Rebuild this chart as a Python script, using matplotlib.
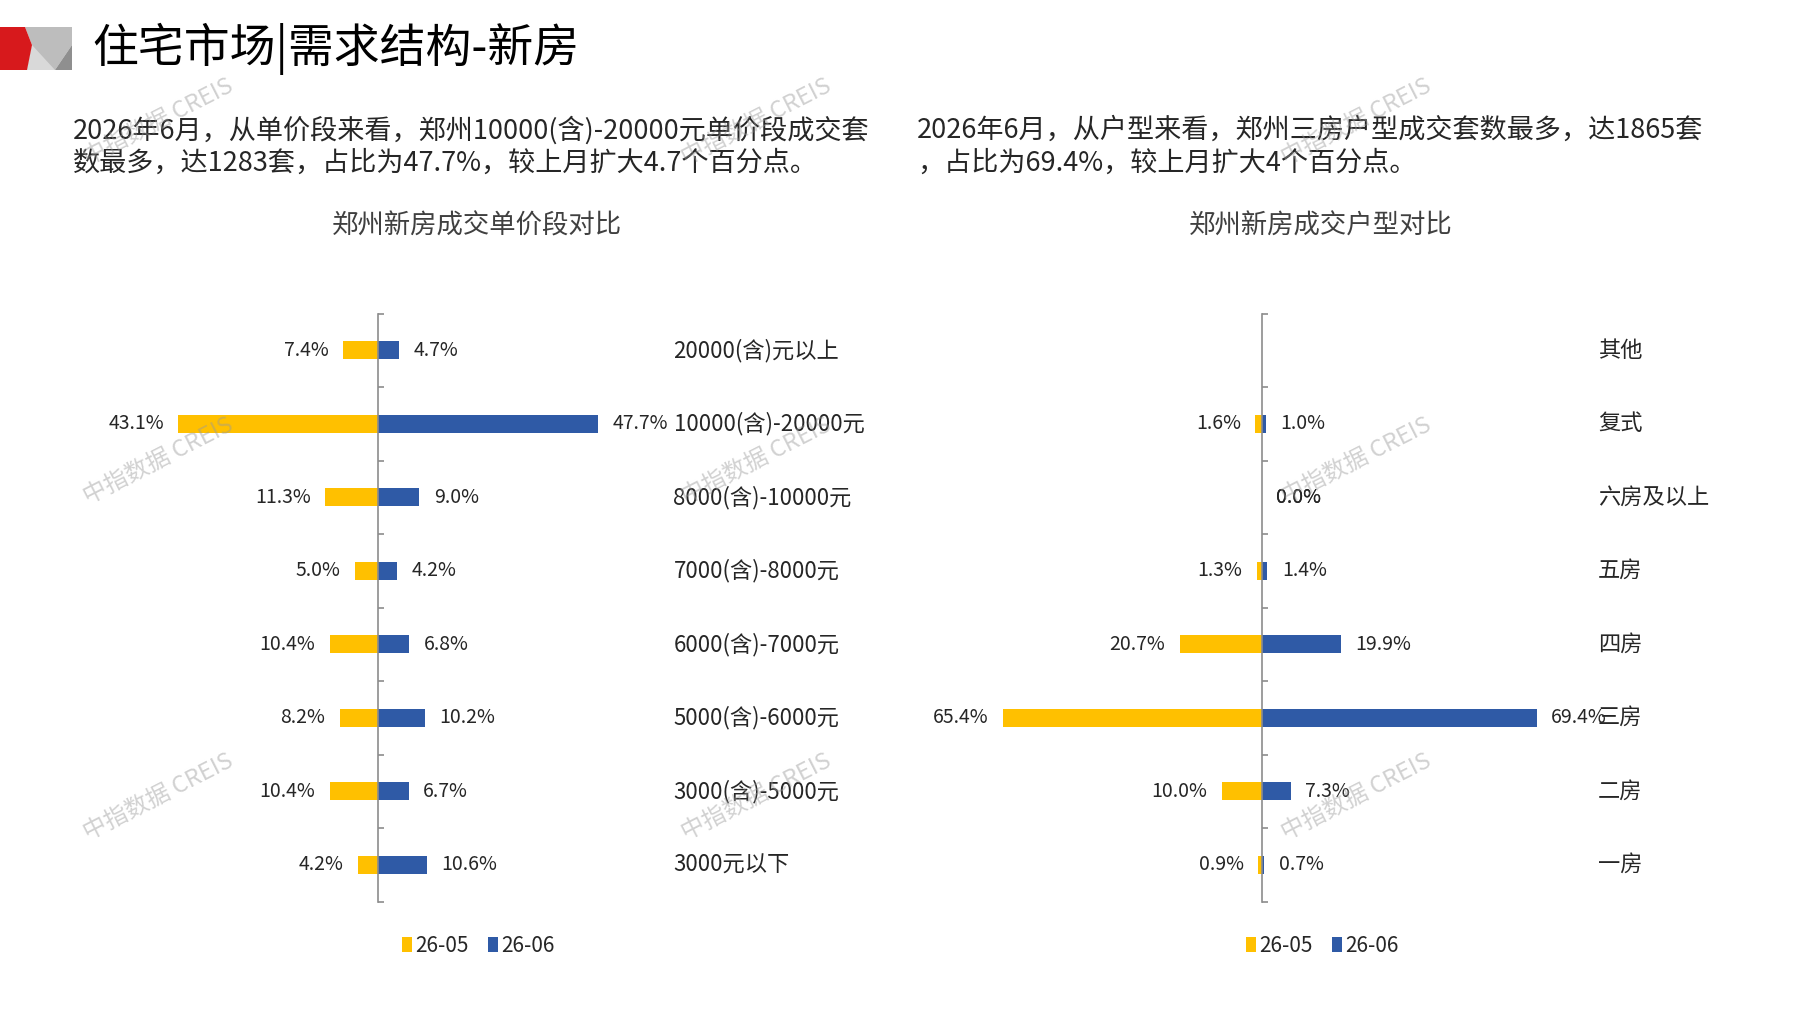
import matplotlib
matplotlib.use("Agg")
import matplotlib.pyplot as plt
import matplotlib.transforms as mtransforms
from matplotlib.patches import Polygon
import numpy as np

plt.rcParams['font.family'] = ['Noto Sans CJK SC', 'DejaVu Sans']

W, H = 1797, 1010

# ---- data ----
price_bands = ["20000(含)元以上", "10000(含)-20000元", "8000(含)-10000元",
               "7000(含)-8000元", "6000(含)-7000元", "5000(含)-6000元",
               "3000(含)-5000元", "3000元以下"]
price_may = [7.4, 43.1, 11.3, 5.0, 10.4, 8.2, 10.4, 4.2]
price_jun = [4.7, 47.7, 9.0, 4.2, 6.8, 10.2, 6.7, 10.6]

room_types = ["其他", "复式", "六房及以上", "五房", "四房", "三房", "二房", "一房"]
room_may = [None, 1.6, 0.0, 1.3, 20.7, 65.4, 10.0, 0.9]
room_jun = [None, 1.0, 0.0, 1.4, 19.9, 69.4, 7.3, 0.7]

series_names = ["26-05", "26-06"]

title = "住宅市场|需求结构-新房"
left_text = ["2026年6月，从单价段来看，郑州10000(含)-20000元单价段成交套",
             "数最多，达1283套，占比为47.7%，较上月扩大4.7个百分点。"]
right_text = ["2026年6月，从户型来看，郑州三房户型成交套数最多，达1865套",
              "，占比为69.4%，较上月扩大4个百分点。"]
left_title = "郑州新房成交单价段对比"
right_title = "郑州新房成交户型对比"
watermark = "中指数据 CREIS"

YELLOW = "#FFC000"
BLUE = "#2F5AA6"
AXIS_GRAY = "#8c8c8c"
TEXT = "#262626"


def fx(px):
    return px / W


def fy(py):
    return 1 - py / H


def to_vals(values):
    return np.array([np.nan if v is None else v for v in values], dtype=float)


def draw_panel(ax, cats, may, jun, xlim, label_px, legend_px):
    n = len(cats)
    y = np.arange(n)
    may_v = to_vals(may)
    jun_v = to_vals(jun)
    b1 = ax.barh(y, -may_v, height=0.24, color=YELLOW, label=series_names[0])
    b2 = ax.barh(y, jun_v, height=0.24, color=BLUE, label=series_names[1])

    for i in range(n):
        if may[i] is not None:
            if may[i] == 0:
                ax.annotate(f"{may[i]:.1f}%", (0, i), xytext=(10, 0),
                            textcoords="offset points", ha="left", va="center",
                            fontsize=14, color=TEXT)
            else:
                ax.annotate(f"{may[i]:.1f}%", (-may[i], i), xytext=(-10.5, 0),
                            textcoords="offset points", ha="right", va="center",
                            fontsize=14, color=TEXT)
        if jun[i] is not None:
            ax.annotate(f"{jun[i]:.1f}%", (jun[i], i), xytext=(10.5, 0),
                        textcoords="offset points", ha="left", va="center",
                        fontsize=14, color=TEXT)

    trans = mtransforms.blended_transform_factory(ax.figure.transFigure, ax.transData)
    for i, c in enumerate(cats):
        ax.text(fx(label_px), i, c, transform=trans, ha="left", va="center",
                fontsize=16, color=TEXT)

    ax.set_xlim(*xlim)
    ax.set_ylim(n - 0.5, -0.5)
    for s in ["top", "right", "bottom"]:
        ax.spines[s].set_visible(False)
    ax.spines["left"].set_position(("data", 0))
    ax.spines["left"].set_color(AXIS_GRAY)
    ax.spines["left"].set_linewidth(1.2)
    ax.set_xticks([])
    ax.set_yticks(np.arange(-0.5, n, 1.0))
    ax.tick_params(axis="y", direction="in", length=4.5, width=1.2,
                   color=AXIS_GRAY, labelleft=False)
    ax.patch.set_alpha(0)

    ax.figure.legend(handles=[b1, b2], loc="center left",
                     bbox_to_anchor=(fx(legend_px), fy(946)), ncol=2,
                     frameon=False, fontsize=15, handlelength=0.5,
                     handleheight=0.7, handletextpad=0.15, columnspacing=0.9,
                     borderpad=0, borderaxespad=0, labelcolor=TEXT)


fig = plt.figure(figsize=(W / 100, H / 100), dpi=100)

top_px, bot_px = 313.5, 901.5
ax_h = (bot_px - top_px) / H
ax_b = fy(bot_px)

# left panel: axis line at x=377.7px, 4.625 px per %
ax1 = fig.add_axes([fx(377.7 - 62 * 4.625), ax_b, fx(124 * 4.625), ax_h])
draw_panel(ax1, price_bands, price_may, price_jun, (-62, 62), 673.5, 402)

# right panel: axis line at x=1261.7px, 3.96 px per %
ax2 = fig.add_axes([fx(1261.7 - 80 * 3.96), ax_b, fx(160 * 3.96), ax_h])
draw_panel(ax2, room_types, room_may, room_jun, (-80, 80), 1598, 1246)

# decoration layer in pixel coordinates
deco = fig.add_axes([0, 0, 1, 1], zorder=10)
deco.set_xlim(0, W)
deco.set_ylim(H, 0)
deco.axis("off")
deco.patch.set_alpha(0)

deco.add_patch(Polygon([(25, 27), (72, 27), (72, 45), (55, 70), (27, 70), (32, 45)],
                       closed=True, color="#bdbdbd", lw=0))
deco.add_patch(Polygon([(32, 45), (55, 70), (27, 70)], closed=True,
                       color="#d9d9d9", lw=0))
deco.add_patch(Polygon([(72, 45), (72, 70), (55, 70)], closed=True,
                       color="#8f8f8f", lw=0))
deco.add_patch(Polygon([(0, 27), (25, 27), (32, 45), (27, 70), (0, 70)],
                       closed=True, color="#d7191c", lw=0))

deco.text(92, 49, title, fontsize=33, ha="left", va="center", color="#000000")

for i, line in enumerate(left_text):
    deco.text(73, 130 + i * 33, line, fontsize=19.5, ha="left", va="center", color=TEXT)
for i, line in enumerate(right_text):
    deco.text(917, 130 + i * 33, line, fontsize=19.5, ha="left", va="center", color=TEXT)

deco.text(477, 226, left_title, fontsize=19, ha="center", va="center", color="#404040")
deco.text(1321, 226, right_title, fontsize=19, ha="center", va="center", color="#404040")

for wx in [158, 756, 1356]:
    for wy in [122, 461, 797]:
        deco.text(wx, wy, watermark, fontsize=17, rotation=27, ha="center",
                  va="center", color="#9a9a9a", alpha=0.45)

fig.savefig("out.png", dpi=100, facecolor="white")
